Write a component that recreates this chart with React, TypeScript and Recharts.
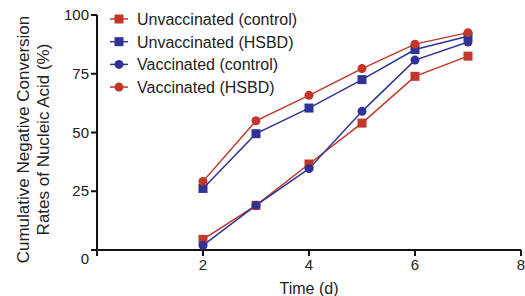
import React from 'react';
import { LineChart, Line, XAxis, YAxis } from 'recharts';

const time = [2, 3, 4, 5, 6, 7];
const unvacControl = [4.5, 19, 36.6, 54, 73.9, 82.5];
const unvacHSBD = [26.2, 49.5, 60.4, 72.5, 85.3, 91];
const vacControl = [2, 19, 34.6, 59, 80.8, 88.5];
const vacHSBD = [29.2, 55, 65.8, 77.2, 87.6, 92.5];
const xTicks = [0, 2, 4, 6, 8];
const yTicks = [0, 25, 50, 75, 100];

const RED = '#C1372B';
const BLUE = '#2F3396';
const FONT = '"Liberation Sans", Arial, sans-serif';

const data = time.map((t, i) => ({
  t,
  uc: unvacControl[i],
  uh: unvacHSBD[i],
  vc: vacControl[i],
  vh: vacHSBD[i],
}));

const series = [
  { key: 'uc', name: 'Unvaccinated (control)', color: RED, shape: 'square' },
  { key: 'uh', name: 'Unvaccinated (HSBD)', color: BLUE, shape: 'square' },
  { key: 'vc', name: 'Vaccinated (control)', color: BLUE, shape: 'circle' },
  { key: 'vh', name: 'Vaccinated (HSBD)', color: RED, shape: 'circle' },
];

const makeDot = (color: string, shape: string) => (props: any) => {
  const { cx, cy, key } = props;
  if (cx == null || cy == null) return <g key={key} />;
  if (shape === 'square') {
    return <rect key={key} x={cx - 4.5} y={cy - 4.5} width={9} height={9} fill={color} />;
  }
  return <circle key={key} cx={cx} cy={cy} r={4.5} fill={color} />;
};

const LegendOverlay = () => (
  <svg width={250} height={110} style={{ position: 'absolute', left: 100, top: 0, overflow: 'visible' }}>
    {series.map((s, i) => {
      const y = 19 + i * 22.7;
      return (
        <g key={s.key}>
          <line x1={10} x2={28} y1={y} y2={y} stroke={s.color} strokeWidth={1.5} />
          {s.shape === 'square' ? (
            <rect x={19 - 4.5} y={y - 4.5} width={9} height={9} fill={s.color} />
          ) : (
            <circle cx={19} cy={y} r={4.5} fill={s.color} />
          )}
          <text x={37} y={y + 6} fontSize={16} fontFamily={FONT} fill="#222">
            {s.name}
          </text>
        </g>
      );
    })}
  </svg>
);

const YTick = (props: any) => {
  const { x, y, payload } = props;
  const dy = payload.value === 0 ? 9 : 0;
  return (
    <text x={x} y={y + dy} dy={5} textAnchor="end" fontSize={15} fontFamily={FONT} fill="#222">
      {payload.value}
    </text>
  );
};

const XTick = (props: any) => {
  const { x, y, payload } = props;
  if (payload.value === 0) return <g />;
  return (
    <text x={x} y={y} dy={12} textAnchor="middle" fontSize={15} fontFamily={FONT} fill="#222">
      {payload.value}
    </text>
  );
};

const YLabel = (props: any) => {
  const vb = props.viewBox || {};
  const cy = (vb.y ?? 15) + (vb.height ?? 234) / 2 + 7;
  return (
    <g>
      <text x={0} y={0} transform={`translate(29, ${cy}) rotate(-90)`} textAnchor="middle" fontSize={17} fontFamily={FONT} fill="#222">
        Cumulative Negative Conversion
      </text>
      <text x={0} y={0} transform={`translate(49, ${cy}) rotate(-90)`} textAnchor="middle" fontSize={17} fontFamily={FONT} fill="#222">
        Rates of Nucleic Acid (%)
      </text>
    </g>
  );
};

export default function App() {
  return (
    <div style={{ position: 'absolute', left: 0, top: 0, width: 525, height: 296 }}>
      <LineChart width={525} height={296} data={data} margin={{ top: 15, right: 4, left: 0, bottom: 0 }}>
        <XAxis
          dataKey="t"
          type="number"
          domain={[0, 8]}
          ticks={xTicks}
          height={46}
          stroke="#111"
          strokeWidth={2}
          tickSize={6}
          tick={<XTick />}
          tickMargin={2}
          label={{ value: 'Time (d)', position: 'insideBottom', offset: 2, fontSize: 16, fontFamily: FONT, fill: '#222' }}
        />
        <YAxis
          type="number"
          domain={[0, 100]}
          ticks={yTicks}
          width={97}
          stroke="#111"
          strokeWidth={2}
          tickSize={6}
          tick={<YTick />}
          label={<YLabel />}
        />
        {series.map((s) => (
          <Line
            key={s.key}
            dataKey={s.key}
            name={s.name}
            stroke={s.color}
            strokeWidth={1.5}
            dot={makeDot(s.color, s.shape)}
            isAnimationActive={false}
          />
        ))}
      </LineChart>
      <LegendOverlay />
    </div>
  );
}
